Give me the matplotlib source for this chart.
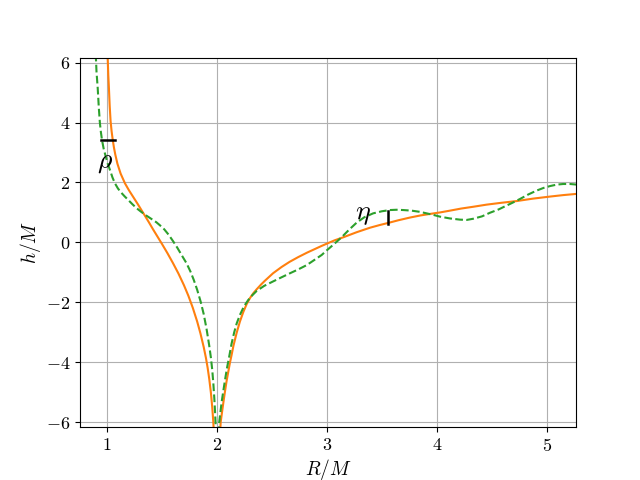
import matplotlib
matplotlib.use("Agg")
import matplotlib.pyplot as plt
from matplotlib.ticker import FormatStrFormatter

plt.rcParams['mathtext.fontset'] = 'cm'
plt.rcParams['font.family'] = 'serif'
plt.rcParams['font.serif'] = ['cmr10', 'DejaVu Serif']

# Orange solid curve, left branch (R/M, h/M)
orange_left_x = [1.006, 1.012, 1.018, 1.025, 1.033, 1.042, 1.052, 1.063, 1.076, 1.095,
                 1.124, 1.164, 1.20, 1.233, 1.28, 1.33, 1.38, 1.42, 1.46, 1.50,
                 1.55, 1.60, 1.65, 1.70, 1.74, 1.78, 1.82, 1.85, 1.88, 1.90,
                 1.915, 1.93, 1.945, 1.957, 1.967, 1.972]
orange_left_y = [6.25, 5.6, 5.15, 4.55, 4.05, 3.72, 3.44, 3.18, 2.93, 2.63,
                 2.30, 1.97, 1.74, 1.55, 1.28, 0.98, 0.68, 0.43, 0.19, -0.05,
                 -0.36, -0.69, -1.04, -1.43, -1.78, -2.18, -2.64, -3.04, -3.50, -3.86,
                 -4.18, -4.56, -5.02, -5.5, -6.0, -6.4]

# Orange solid curve, right branch
orange_right_x = [2.028, 2.034, 2.045, 2.057, 2.072, 2.088, 2.105, 2.118, 2.133, 2.15,
                  2.179, 2.209, 2.24, 2.27, 2.30, 2.33, 2.36, 2.40, 2.436, 2.51,
                  2.588, 2.66, 2.739, 2.82, 2.891, 2.95, 3.0, 3.07, 3.148, 3.27,
                  3.391, 3.48, 3.557, 3.65, 3.755, 3.85, 3.936, 4.027, 4.118, 4.22,
                  4.33, 4.45, 4.58, 4.724, 4.87, 5.027, 5.15, 5.27]
orange_right_y = [-6.4, -6.0, -5.7, -5.38, -5.0, -4.62, -4.28, -4.02, -3.76, -3.45,
                  -3.02, -2.64, -2.32, -2.06, -1.86, -1.70, -1.57, -1.41, -1.28, -1.03,
                  -0.82, -0.65, -0.49, -0.34, -0.22, -0.12, -0.04, 0.07, 0.17, 0.34,
                  0.49, 0.58, 0.65, 0.74, 0.83, 0.90, 0.95, 1.0, 1.06, 1.13,
                  1.19, 1.26, 1.32, 1.38, 1.46, 1.53, 1.58, 1.62]

# Green dashed curve, left branch
green_left_x = [0.898, 0.905, 0.916, 0.926, 0.936, 0.945, 0.955, 0.97, 0.988, 1.008,
                1.033, 1.05, 1.073, 1.10, 1.13, 1.16, 1.19, 1.23, 1.27, 1.315,
                1.36, 1.41, 1.45, 1.482, 1.52, 1.56, 1.603, 1.64, 1.68, 1.724,
                1.76, 1.79, 1.82, 1.852, 1.88, 1.906, 1.93, 1.945, 1.957, 1.967,
                1.976, 1.984, 1.99, 1.993]
green_left_y = [6.3, 5.7, 5.15, 4.5, 3.98, 3.68, 3.42, 3.13, 2.88, 2.62,
                2.36, 2.17, 1.97, 1.80, 1.66, 1.54, 1.43, 1.28, 1.14, 1.01,
                0.89, 0.77, 0.67, 0.57, 0.44, 0.26, 0.03, -0.18, -0.43, -0.70,
                -0.98, -1.26, -1.58, -1.98, -2.4, -2.9, -3.45, -3.85, -4.25, -4.7,
                -5.2, -5.75, -6.25, -6.5]

# Green dashed curve, right branch
green_right_x = [2.015, 2.021, 2.032, 2.042, 2.057, 2.073, 2.09, 2.112, 2.133, 2.157,
                 2.18, 2.209, 2.245, 2.285, 2.32, 2.361, 2.43, 2.512, 2.59, 2.664,
                 2.74, 2.815, 2.88, 2.952, 2.997, 3.057, 3.133, 3.2, 3.27, 3.34,
                 3.42, 3.5, 3.573, 3.634, 3.694, 3.77, 3.845, 3.966, 4.027, 4.118,
                 4.209, 4.27, 4.33, 4.41, 4.482, 4.56, 4.633, 4.69, 4.755, 4.83,
                 4.906, 4.97, 5.027, 5.09, 5.148, 5.21, 5.27]
green_right_y = [-6.4, -6.0, -5.65, -5.35, -4.98, -4.6, -4.22, -3.8, -3.38, -3.0,
                 -2.7, -2.42, -2.14, -1.92, -1.77, -1.62, -1.45, -1.30, -1.16, -1.03,
                 -0.90, -0.76, -0.6, -0.42, -0.27, -0.08, 0.17, 0.42, 0.66, 0.84,
                 0.97, 1.04, 1.08, 1.09, 1.08, 1.06, 1.02, 0.92, 0.86, 0.80,
                 0.76, 0.75, 0.79, 0.87, 0.99, 1.10, 1.23, 1.33, 1.45, 1.6,
                 1.73, 1.82, 1.88, 1.93, 1.95, 1.95, 1.93]

# Marker bars for rho and eta
rho_bar_x = [0.945, 1.07]
rho_bar_y = [3.42, 3.42]
eta_bar_x = [3.557, 3.557]
eta_bar_y = [0.605, 1.06]


def main():
    fig, ax = plt.subplots(figsize=(6.4, 4.8), dpi=100)

    ax.plot(orange_left_x, orange_left_y, color='C1', lw=1.5)
    ax.plot(orange_right_x, orange_right_y, color='C1', lw=1.5)
    ax.plot(green_left_x, green_left_y, color='C2', lw=1.5, ls='--')
    ax.plot(green_right_x, green_right_y, color='C2', lw=1.5, ls='--')

    ax.plot(rho_bar_x, rho_bar_y, color='k', lw=1.8)
    ax.plot(eta_bar_x, eta_bar_y, color='k', lw=1.8)
    ax.text(0.98, 2.68, r'$\rho$', fontsize=20, ha='center', va='center')
    ax.text(3.33, 0.97, r'$\eta$', fontsize=20, ha='center', va='center')

    ax.set_xlim(0.755, 5.264)
    ax.set_ylim(-6.17, 6.17)
    ax.set_xticks([1, 2, 3, 4, 5])
    ax.set_yticks([-6, -4, -2, 0, 2, 4, 6])
    ax.xaxis.set_major_formatter(FormatStrFormatter('$%g$'))
    ax.yaxis.set_major_formatter(FormatStrFormatter('$%g$'))
    ax.tick_params(labelsize=13)
    ax.set_xlabel(r'$R/M$', fontsize=14, labelpad=2)
    ax.set_ylabel(r'$h/M$', fontsize=14, labelpad=2)
    ax.grid()

    fig.savefig('out.png')


if __name__ == '__main__':
    main()
